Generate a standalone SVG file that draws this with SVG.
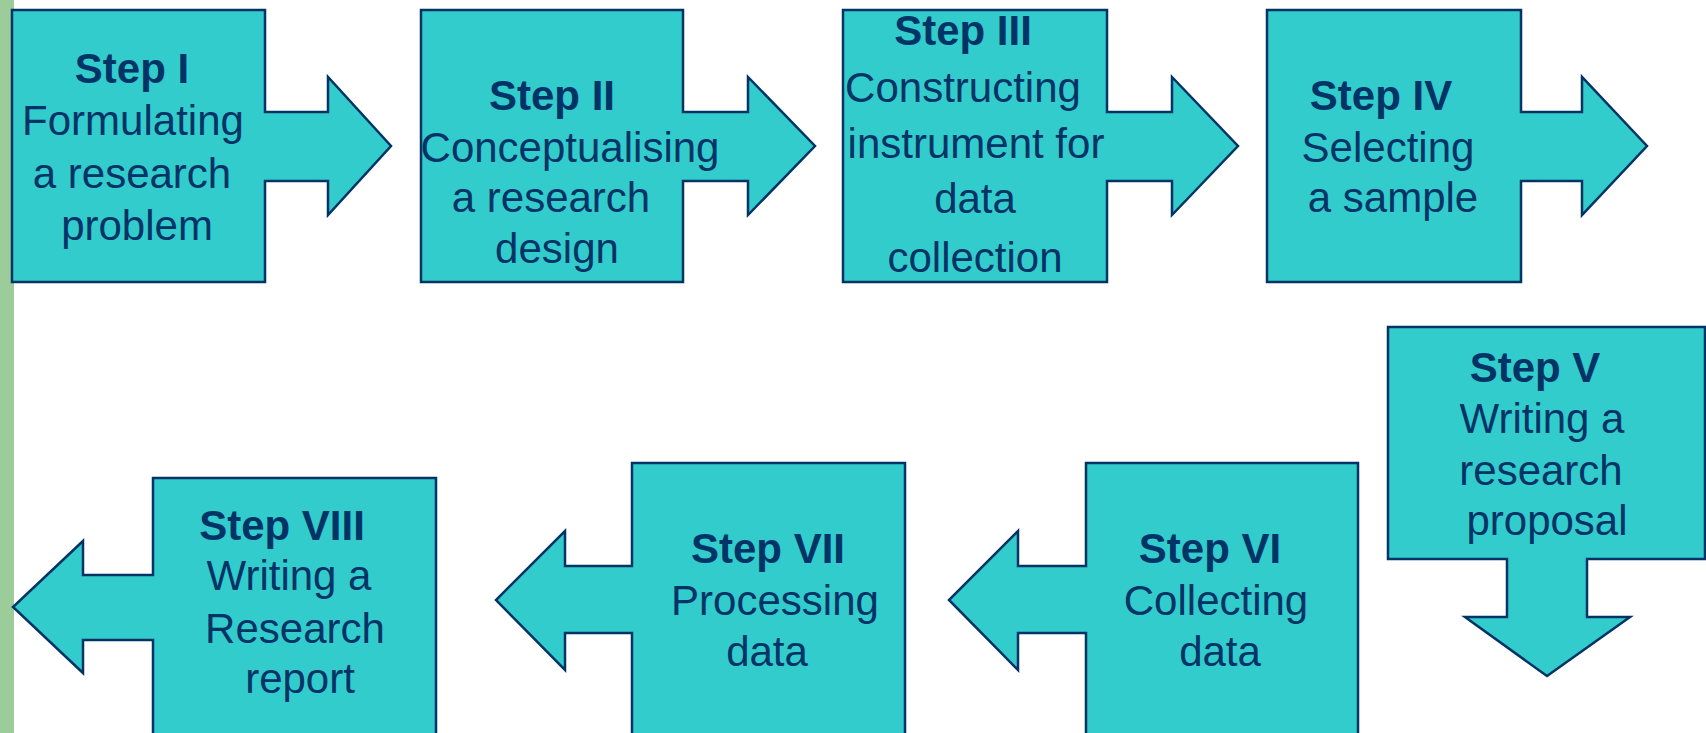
<svg xmlns="http://www.w3.org/2000/svg" width="1706" height="733" viewBox="0 0 1706 733">
<style>
.shape{fill:#33CCCC;stroke:#003366;stroke-width:2.5;stroke-linejoin:miter}
.t{font-family:"Liberation Sans",Arial,sans-serif;font-size:42px;fill:#003366;text-anchor:middle}
.b{font-weight:bold}
</style>
<rect x="0" y="0" width="1706" height="733" fill="#FFFFFF"/>
<rect x="0" y="0" width="14" height="733" fill="#9CCC9A"/>
<g id="connectors"></g>
<g id="step1">
<path class="shape" d="M12,10 H265 V112 H328 V77 L391,146 L328,215 V181 H265 V282 H12 Z"/>
<text class="t b" x="132" y="83">Step I</text>
<text class="t" x="133" y="135">Formulating</text>
<text class="t" x="132" y="188">a research</text>
<text class="t" x="137" y="240">problem</text>
</g>
<g id="step2">
<path class="shape" d="M421,10 H683 V112 H748 V77 L815,146 L748,215 V181 H683 V282 H421 Z"/>
<text class="t b" x="552" y="110">Step II</text>
<text class="t" x="570" y="162">Conceptualising</text>
<text class="t" x="551" y="212">a research</text>
<text class="t" x="557" y="263">design</text>
</g>
<g id="step3">
<path class="shape" d="M843,10 H1107 V112 H1172 V77 L1238,146 L1172,215 V181 H1107 V282 H843 Z"/>
<text class="t b" x="963" y="45">Step III</text>
<text class="t" x="963" y="102">Constructing</text>
<text class="t" x="976" y="158">instrument for</text>
<text class="t" x="975" y="213">data</text>
<text class="t" x="975" y="272">collection</text>
</g>
<g id="step4">
<path class="shape" d="M1267,10 H1521 V112 H1582 V77 L1647,146 L1582,215 V181 H1521 V282 H1267 Z"/>
<text class="t b" x="1381" y="110">Step IV</text>
<text class="t" x="1388" y="162">Selecting</text>
<text class="t" x="1393" y="212">a sample</text>
</g>
<g id="step5">
<path class="shape" d="M1388,327 H1705 V559 H1587 V617 H1630 L1547,676 L1465,617 H1507 V559 H1388 Z"/>
<text class="t b" x="1535" y="382">Step V</text>
<text class="t" x="1542" y="433">Writing a</text>
<text class="t" x="1541" y="485">research</text>
<text class="t" x="1547" y="535">proposal</text>
</g>
<g id="step6">
<path class="shape" d="M1086,463 H1358 V745 H1086 V633 H1018 V670 L949,600 L1018,531 V566 H1086 Z"/>
<text class="t b" x="1210" y="563">Step VI</text>
<text class="t" x="1216" y="615">Collecting</text>
<text class="t" x="1220" y="666">data</text>
</g>
<g id="step7">
<path class="shape" d="M632,463 H905 V745 H632 V633 H565 V670 L496,600 L565,531 V566 H632 Z"/>
<text class="t b" x="768" y="563">Step VII</text>
<text class="t" x="775" y="615">Processing</text>
<text class="t" x="767" y="666">data</text>
</g>
<g id="step8">
<path class="shape" d="M153,478 H436 V745 H153 V640 H83 V673 L13,607 L83,541 V575 H153 Z"/>
<text class="t b" x="282" y="540">Step VIII</text>
<text class="t" x="289" y="590">Writing a</text>
<text class="t" x="295" y="643">Research</text>
<text class="t" x="300" y="693">report</text>
</g>
</svg>
